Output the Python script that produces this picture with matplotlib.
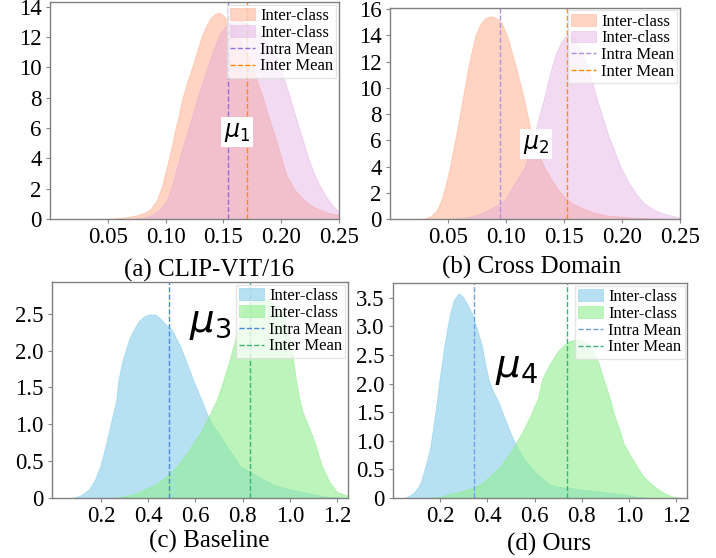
import matplotlib
matplotlib.use("Agg")
import matplotlib.pyplot as plt

plt.rcParams["font.family"] = ["Liberation Serif", "DejaVu Serif"]

# ---- (a) CLIP-VIT/16 : density curves ----
a_x1 = [0.00, 0.04, 0.055, 0.065, 0.075, 0.082, 0.087, 0.0925, 0.097, 0.101, 0.1045, 0.1075,
        0.111, 0.114, 0.1185, 0.123, 0.127, 0.1315, 0.135, 0.139, 0.1425, 0.146, 0.1495,
        0.153, 0.1575, 0.162, 0.167, 0.172, 0.176, 0.1805, 0.185, 0.1905, 0.1965, 0.201,
        0.205, 0.212, 0.2196, 0.227, 0.234, 0.241, 0.25]
a_y1 = [0, 0, 0.04, 0.1, 0.25, 0.42, 0.65, 1.25, 2.2, 3.4, 4.5, 5.6,
        6.7, 7.8, 9.0, 10.0, 11.0, 12.1, 12.7, 13.25, 13.5, 13.6, 13.45,
        13.1, 12.7, 12.1, 11.4, 10.6, 9.8, 8.8, 7.8, 6.4, 5.0, 3.8,
        2.8, 1.9, 1.25, 0.85, 0.6, 0.4, 0.26]
a_x2 = [0.00, 0.07, 0.08, 0.088, 0.095, 0.101, 0.106, 0.110, 0.114, 0.1185, 0.123, 0.127,
        0.1315, 0.136, 0.1415, 0.147, 0.152, 0.157, 0.163, 0.169, 0.175, 0.181, 0.188,
        0.194, 0.1995, 0.204, 0.208, 0.2115, 0.215, 0.2195, 0.224, 0.229, 0.234, 0.2395,
        0.245, 0.25]
a_y2 = [0, 0, 0.08, 0.25, 0.6, 1.25, 2.3, 3.45, 4.5, 5.65, 6.8, 7.85,
        8.9, 10.0, 11.2, 12.2, 12.7, 13.0, 13.1, 13.0, 12.6, 12.3, 11.6,
        10.8, 9.9, 8.9, 7.9, 7.0, 6.1, 5.0, 3.9, 2.9, 2.1, 1.4,
        0.85, 0.45]
a_means = [0.1538, 0.1705]

# ---- (b) Cross Domain ----
b_x1 = [0.00, 0.025, 0.030, 0.035, 0.040, 0.0443, 0.048, 0.0515, 0.054, 0.057, 0.0595, 0.0621,
        0.0645, 0.0672, 0.0705, 0.0736, 0.0765, 0.0787, 0.082, 0.0868, 0.091, 0.096, 0.101,
        0.105, 0.109, 0.1125, 0.116, 0.119, 0.122, 0.127, 0.133, 0.140, 0.146, 0.153, 0.16,
        0.168, 0.176, 0.188, 0.199, 0.21, 0.225, 0.25]
b_y1 = [0, 0, 0.05, 0.2, 0.6, 1.43, 2.6, 3.9, 5.1, 6.4, 7.6, 8.9,
        10.1, 11.45, 12.8, 13.96, 14.6, 14.96, 15.3, 15.46, 15.35, 14.96, 13.96,
        12.7, 11.45, 10.2, 8.95, 7.7, 6.45, 5.2, 3.95, 2.9, 2.1, 1.45, 1.05,
        0.75, 0.48, 0.25, 0.18, 0.1, 0.05, 0.0]
b_x2 = [0.00, 0.05, 0.056, 0.065, 0.072, 0.0787, 0.085, 0.092, 0.0988, 0.104, 0.110, 0.116,
        0.1205, 0.1246, 0.128, 0.132, 0.1355, 0.139, 0.143, 0.1475, 0.1533, 0.159, 0.166,
        0.1706, 0.175, 0.179, 0.1835, 0.188, 0.1935, 0.199, 0.205, 0.212, 0.219, 0.228,
        0.238, 0.248, 0.25]
b_y2 = [0, 0, 0.03, 0.1, 0.25, 0.43, 0.7, 1.05, 1.43, 2.2, 3.1, 3.93,
        5.2, 6.44, 7.7, 8.95, 10.2, 11.45, 12.6, 13.5, 14.1, 13.8, 12.7,
        11.45, 10.2, 8.95, 7.7, 6.44, 5.2, 3.93, 2.9, 1.93, 1.2, 0.68,
        0.35, 0.15, 0.13]
b_means = [0.0945, 0.1528]

# ---- (c) Baseline ----
c_x1 = [0.0, 0.07, 0.084, 0.11, 0.13, 0.148, 0.175, 0.197, 0.215, 0.232, 0.248, 0.265, 0.274,
        0.29, 0.31, 0.325, 0.338, 0.36, 0.38, 0.40, 0.43, 0.45, 0.47, 0.50, 0.535, 0.56,
        0.59, 0.62, 0.648, 0.67, 0.697, 0.732, 0.76, 0.789, 0.83, 0.86, 0.887, 0.93, 0.97,
        1.01, 1.056, 1.085, 1.15, 1.245]
c_y1 = [0, 0, 0.005, 0.03, 0.07, 0.11, 0.25, 0.43, 0.65, 0.88, 1.1, 1.33, 1.6,
        1.85, 2.06, 2.2, 2.28, 2.4, 2.46, 2.49, 2.49, 2.44, 2.37, 2.28, 2.06, 1.86,
        1.6, 1.37, 1.15, 1.0, 0.88, 0.70, 0.57, 0.43, 0.36, 0.3, 0.25, 0.18, 0.14,
        0.11, 0.08, 0.06, 0.02, 0.0]
c_x2 = [0.0, 0.25, 0.27, 0.31, 0.352, 0.40, 0.437, 0.48, 0.521, 0.56, 0.59, 0.62, 0.655,
        0.69, 0.718, 0.74, 0.76, 0.78, 0.796, 0.815, 0.84, 0.86, 0.885, 0.91, 0.94, 0.97,
        1.005, 1.025, 1.04, 1.055, 1.09, 1.11, 1.135, 1.17, 1.2, 1.245]
c_y2 = [0, 0, 0.01, 0.03, 0.07, 0.14, 0.2, 0.3, 0.43, 0.6, 0.74, 0.88, 1.1,
        1.33, 1.6, 1.83, 2.06, 2.3, 2.48, 2.6, 2.66, 2.69, 2.72, 2.68, 2.6, 2.51,
        2.06, 1.6, 1.33, 1.15, 0.88, 0.7, 0.43, 0.2, 0.08, 0.03]
c_means = [0.486, 0.832]

# ---- (d) Ours ----
d_x1 = [0.0, 0.04, 0.055, 0.073, 0.09, 0.108, 0.12, 0.129, 0.145, 0.158, 0.169, 0.179, 0.188,
        0.197, 0.207, 0.217, 0.229, 0.242, 0.258, 0.278, 0.295, 0.31, 0.334, 0.356, 0.377,
        0.39, 0.405, 0.425, 0.447, 0.475, 0.497, 0.515, 0.532, 0.555, 0.581, 0.61, 0.638,
        0.66, 0.68, 0.71, 0.74, 0.78, 0.836, 0.9, 0.977, 1.04, 1.09, 1.245]
d_y1 = [0, 0, 0.01, 0.05, 0.1, 0.2, 0.3, 0.44, 0.67, 0.9, 1.2, 1.49, 1.78,
        2.07, 2.36, 2.65, 2.95, 3.23, 3.47, 3.58, 3.52, 3.42, 3.23, 2.95, 2.65,
        2.35, 2.07, 1.85, 1.68, 1.37, 1.14, 0.98, 0.84, 0.68, 0.55, 0.42, 0.32,
        0.25, 0.21, 0.19, 0.18, 0.16, 0.13, 0.1, 0.06, 0.02, 0.0, 0.0]
d_x2 = [0.0, 0.15, 0.2, 0.228, 0.27, 0.313, 0.35, 0.377, 0.415, 0.454, 0.48, 0.504, 0.525,
        0.546, 0.565, 0.581, 0.595, 0.612, 0.631, 0.648, 0.666, 0.69, 0.716, 0.75, 0.786,
        0.81, 0.836, 0.871, 0.892, 0.91, 0.92, 0.934, 0.963, 0.977, 1.0, 1.033, 1.06, 1.09,
        1.12, 1.146, 1.18, 1.2, 1.245]
d_y2 = [0, 0, 0.02, 0.06, 0.1, 0.145, 0.2, 0.26, 0.4, 0.55, 0.7, 0.84, 1.0,
        1.14, 1.3, 1.43, 1.58, 1.72, 2.07, 2.22, 2.36, 2.52, 2.65, 2.75, 2.78,
        2.74, 2.65, 2.36, 2.07, 1.85, 1.72, 1.49, 1.14, 0.95, 0.78, 0.55, 0.38, 0.26,
        0.16, 0.09, 0.03, 0.01, 0.0]
d_means = [0.344, 0.738]

labels = ["Inter-class", "Inter-class", "Intra Mean", "Inter Mean"]
captions = ["(a) CLIP-VIT/16", "(b) Cross Domain", "(c) Baseline", "(d) Ours"]
mu_labels = ["\u03bc${}_1$", "\u03bc${}_2$", "\u03bc${}_3$", "\u03bc${}_4$"]

small_xticks = [0.05, 0.10, 0.15, 0.20, 0.25]
small_xlabels = ["0.05", "0.10", "0.15", "0.20", "0.25"]
big_xticks = [0.2, 0.4, 0.6, 0.8, 1.0, 1.2]
big_xlabels = ["0.2", "0.4", "0.6", "0.8", "1.0", "1.2"]
a_yticks = [0, 2, 4, 6, 8, 10, 12, 14]
b_yticks = [0, 2, 4, 6, 8, 10, 12, 14, 16]
c_yticks = [0, 0.5, 1.0, 1.5, 2.0, 2.5]
c_ylabels = ["0", "0.5", "1.0", "1.5", "2.0", "2.5"]
d_yticks = [0, 0.5, 1.0, 1.5, 2.0, 2.5, 3.0, 3.5]
d_ylabels = ["0", "0.5", "1.0", "1.5", "2.0", "2.5", "3.0", "3.5"]

fig = plt.figure(figsize=(7.16, 5.58), dpi=100)

panels = [
    dict(rect=[0.0698, 0.6075, 0.4036, 0.3889], x1=a_x1, y1=a_y1, x2=a_x2, y2=a_y2,
         means=a_means, fill=("#ffa07a", "#dda0dd"), alpha=(0.45, 0.38),
         lines=("#9370db", "#ff8c00"), xlim=(0, 0.25), ylim=(0, 14.3),
         xt=small_xticks, xl=small_xlabels, yt=a_yticks, yl=[str(v) for v in a_yticks],
         mu=(0.162, 5.75), mu_fs=17, mu_box=True),
    dict(rect=[0.5447, 0.6075, 0.4050, 0.3785], x1=b_x1, y1=b_y1, x2=b_x2, y2=b_y2,
         means=b_means, fill=("#ffa07a", "#dda0dd"), alpha=(0.45, 0.38),
         lines=("#b08ee0", "#ff8c00"), xlim=(0, 0.25), ylim=(0, 16.1),
         xt=small_xticks, xl=small_xlabels, yt=b_yticks, yl=[str(v) for v in b_yticks],
         mu=(0.126, 5.74), mu_fs=17, mu_box=True),
    dict(rect=[0.0726, 0.1075, 0.4134, 0.3870], x1=c_x1, y1=c_y1, x2=c_x2, y2=c_y2,
         means=c_means, fill=("#87ceeb", "#90ee90"), alpha=(0.6, 0.6),
         lines=("#4a86e8", "#3cb371"), xlim=(-0.007, 1.245), ylim=(0, 2.93),
         xt=big_xticks, xl=big_xlabels, yt=c_yticks, yl=c_ylabels,
         mu=(0.665, 2.37), mu_fs=28, mu_box=False),
    dict(rect=[0.5489, 0.1075, 0.4106, 0.3853], x1=d_x1, y1=d_y1, x2=d_x2, y2=d_y2,
         means=d_means, fill=("#87ceeb", "#90ee90"), alpha=(0.6, 0.6),
         lines=("#6fa0ee", "#3cb371"), xlim=(0, 1.245), ylim=(0, 3.76),
         xt=big_xticks, xl=big_xlabels, yt=d_yticks, yl=d_ylabels,
         mu=(0.525, 2.27), mu_fs=28, mu_box=False),
]

for i, p in enumerate(panels):
    ax = fig.add_axes(p["rect"])
    ax.fill_between(p["x1"], p["y1"], color=p["fill"][0], alpha=p["alpha"][0], lw=0.6,
                    label=labels[0])
    ax.fill_between(p["x2"], p["y2"], color=p["fill"][1], alpha=p["alpha"][1], lw=0.6,
                    label=labels[1])
    ax.axvline(p["means"][0], color=p["lines"][0], ls="--", lw=1.0, label=labels[2])
    ax.axvline(p["means"][1], color=p["lines"][1], ls="--", lw=1.0, label=labels[3])
    ax.set_xlim(*p["xlim"])
    ax.set_ylim(*p["ylim"])
    ax.set_xticks(p["xt"])
    ax.set_xticklabels(p["xl"])
    ax.set_yticks(p["yt"])
    ax.set_yticklabels(p["yl"])
    ax.tick_params(labelsize=16.5, length=3, color="#888888", pad=3)
    for s in ax.spines.values():
        s.set_color("#808080")
        s.set_linewidth(1.0)
    ax.legend(loc="upper right", fontsize=12, handlelength=1.5, handletextpad=0.3,
              labelspacing=0.05, borderpad=0.2, borderaxespad=0.15, framealpha=0.75,
              fancybox=False, edgecolor="#dddddd")

    # italic mu with its index as a subscript
    bbox = dict(facecolor="white", edgecolor="none", pad=2) if p["mu_box"] else None
    ax.text(p["mu"][0], p["mu"][1], mu_labels[i], fontsize=p["mu_fs"], style="italic",
            family="DejaVu Sans", ha="center", va="center", bbox=bbox, zorder=5)

fig.text(0.292, 0.516, captions[0], fontsize=18, ha="center", va="center")
fig.text(0.743, 0.521, captions[1], fontsize=18, ha="center", va="center")
fig.text(0.292, 0.029, captions[2], fontsize=18, ha="center", va="center")
fig.text(0.767, 0.025, captions[3], fontsize=18, ha="center", va="center")

fig.savefig("out.png", dpi=100)
